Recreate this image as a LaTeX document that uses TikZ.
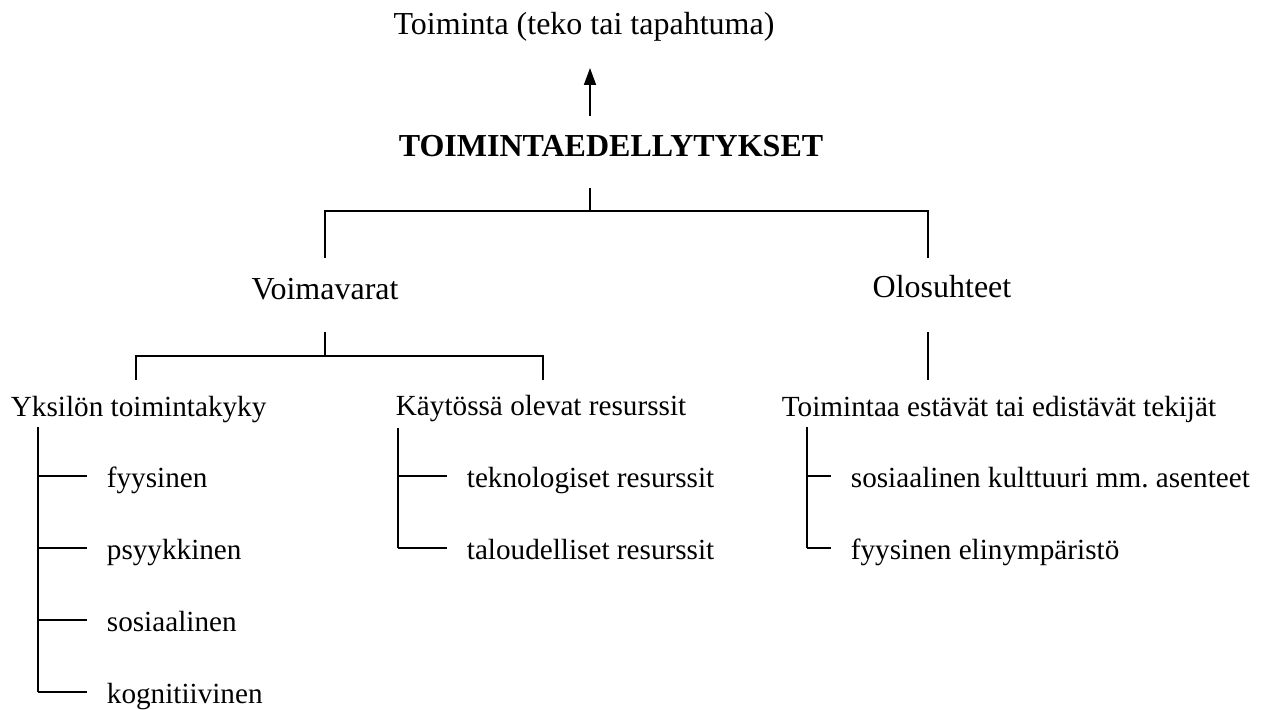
\documentclass[tikz,border=0pt]{standalone}
\usepackage{fontspec}
\setmainfont{Liberation Serif}
\usetikzlibrary{arrows.meta,positioning}
\frenchspacing

\begin{document}
\begin{tikzpicture}[x=0.5pt, y=-0.5pt, line width=0.9pt,
  every node/.style = {inner sep=0pt, font=\fontsize{16}{19}\selectfont},
  head/.style = {anchor=base},
  item/.style = {anchor=base west, font=\fontsize{14.6}{17}\selectfont}]
  \useasboundingbox (0,0) rectangle (1265,710);

  % top: action and its preconditions
  \node[head] (toiminta) at (584,35) {Toiminta (teko tai tapahtuma)};
  \node[head, font=\fontsize{16}{19}\selectfont\bfseries] (edell) at (611,157) {TOIMINTAEDELLYTYKSET};
  \coordinate (arrbot) at (590,116);
  \coordinate (arrtip) at (590,68);
  \draw[-{Triangle[width=6pt,length=8.5pt]}] (arrbot) -- (arrtip);

  % first split
  \node[head] (voima) at (325,300) {Voimavarat};
  \node[head] (olo) at (942,298) {Olosuhteet};
  \coordinate (e1) at (590,188);
  \coordinate (e2) at (590,211);
  \coordinate (vtop) at (325,258);
  \coordinate (otop) at (928,258);
  \draw (e1) -- (e2);
  \draw (vtop) |- (otop |- e2) -- (otop);

  % second split
  \node[item] (yk) at (10,417) {Yksilön toimintakyky};
  \node[item] (kr) at (395,416) {Käytössä olevat resurssit};
  \node[item] (te) at (781,417) {Toimintaa estävät tai edistävät tekijät};
  \coordinate (v1) at (325,332);
  \coordinate (v2) at (325,356);
  \coordinate (yktop) at (136,380);
  \coordinate (krtop) at (543,380);
  \draw (v1) -- (v2);
  \draw (yktop) |- (krtop |- v2) -- (krtop);
  \coordinate (o1) at (928,332);
  \coordinate (o2) at (928,380);
  \draw (o1) -- (o2);

  % lists
  \draw (38,427) -- (38,692);
  \foreach \txt [count=\i] in {fyysinen, psyykkinen, sosiaalinen, kognitiivinen} {
    \node[item] (yk\i) at (106,416+72*\i) {\txt};
    \draw (38,404+72*\i) -- ([xshift=-9.5pt,yshift=6pt]yk\i.base west);
  }
  \draw (398,428) -- (398,548);
  \foreach \txt [count=\i] in {teknologiset resurssit, taloudelliset resurssit} {
    \node[item] (kr\i) at (466,416+72*\i) {\txt};
    \draw (398,404+72*\i) -- ([xshift=-9.5pt,yshift=6pt]kr\i.base west);
  }
  \draw (807,427) -- (807,548);
  \foreach \txt [count=\i] in {sosiaalinen kulttuuri mm. asenteet, fyysinen elinympäristö} {
    \node[item] (te\i) at (850,416+72*\i) {\txt};
    \draw (807,404+72*\i) -- ([xshift=-9.5pt,yshift=6pt]te\i.base west);
  }
\end{tikzpicture}
\end{document}
